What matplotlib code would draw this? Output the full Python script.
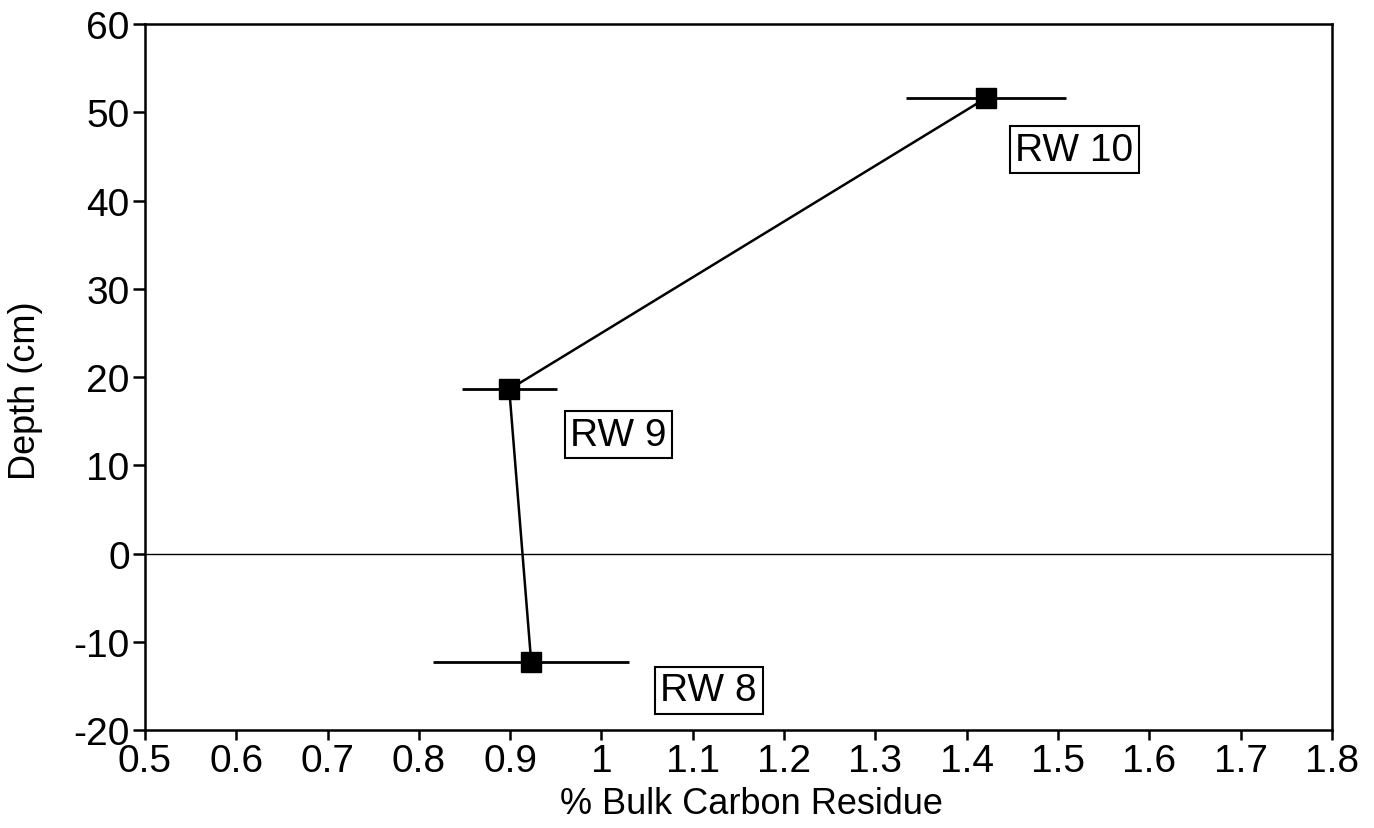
import numpy as np
import matplotlib
matplotlib.use("Agg")
import matplotlib.pyplot as plt

# 数据
samples = ["RW 8", "RW 9", "RW 10"]
carbon = [0.923, 0.899, 1.421]
depth = [-12.3, 18.6, 51.6]
carbon_err = [0.107, 0.052, 0.088]

xticks = [0.5, 0.6, 0.7, 0.8, 0.9, 1.0, 1.1, 1.2, 1.3, 1.4, 1.5, 1.6, 1.7, 1.8]
xtick_labels = ["0.5", "0.6", "0.7", "0.8", "0.9", "1", "1.1", "1.2", "1.3", "1.4", "1.5", "1.6", "1.7", "1.8"]
yticks = [-20, -10, 0, 10, 20, 30, 40, 50, 60]

plt.rcParams["font.family"] = ["Liberation Sans", "DejaVu Sans"]
plt.rcParams["axes.unicode_minus"] = False

fig = plt.figure(figsize=(13.74, 8.29), dpi=100)
ax = fig.add_axes([0.1055, 0.1182, 0.8639, 0.8516])

ax.axhline(0, color="black", linewidth=1.0)
ax.errorbar(carbon, depth, xerr=carbon_err, fmt="none", ecolor="black",
            elinewidth=2.0, capsize=0)
ax.plot(carbon, depth, color="black", linewidth=1.8, marker="s",
        markersize=14, markerfacecolor="black", markeredgecolor="black")

# 标签框
label_pos = [(0.475, 0.056), (0.399, 0.418), (0.783, 0.822)]
for name, (lx, ly) in zip(samples, label_pos):
    ax.text(lx, ly, name, transform=ax.transAxes, ha="center", va="center",
            fontsize=28,
            bbox=dict(boxstyle="square,pad=0.14", facecolor="white",
                      edgecolor="black", linewidth=1.5))

ax.set_xlim(0.5, 1.8)
ax.set_ylim(-20, 60)
ax.set_xticks(xticks)
ax.set_xticklabels(xtick_labels)
ax.set_yticks(yticks)
ax.tick_params(axis="both", labelsize=28, width=1.8, direction="out")
ax.tick_params(axis="x", length=7, pad=2)
ax.tick_params(axis="y", length=9, pad=2)
for sp in ax.spines.values():
    sp.set_linewidth(1.8)

ax.set_xlabel("% Bulk Carbon Residue", fontsize=26)
ax.set_ylabel("Depth (cm)", fontsize=26)
ax.xaxis.set_label_coords(0.511, -0.079)
ax.yaxis.set_label_coords(-0.086, 0.482)

fig.savefig("out.png", dpi=100, facecolor="white")
